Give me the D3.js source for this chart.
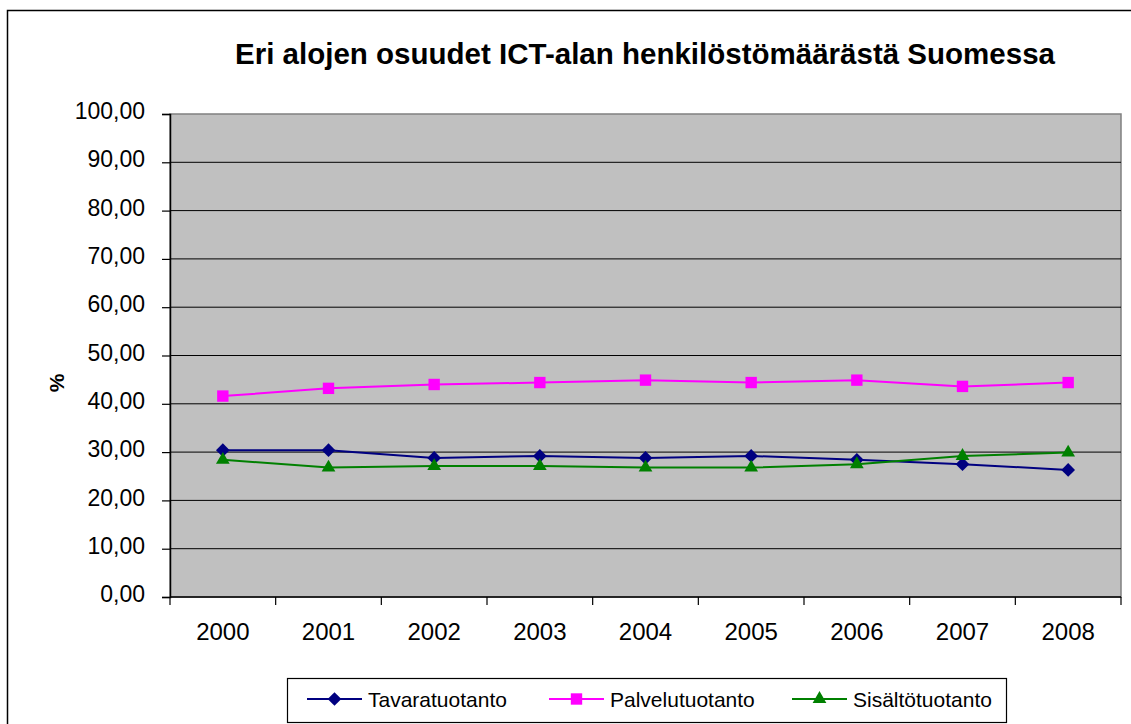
<!DOCTYPE html>
<html>
<head>
<meta charset="utf-8">
<script src="https://cdn.jsdelivr.net/npm/d3@7"></script>
<style>
  body { margin: 0; background: #fff; }
  text { font-family: Arial, "Liberation Sans", sans-serif; }
</style>
</head>
<body>
<svg id="chart" width="1131" height="724"></svg>
<script>
// data
var years = ['2000', '2001', '2002', '2003', '2004', '2005', '2006', '2007', '2008'];
var tavaratuotanto = [30.4, 30.4, 28.8, 29.2, 28.8, 29.2, 28.4, 27.5, 26.3];
var palvelutuotanto = [41.6, 43.2, 44.0, 44.4, 44.9, 44.4, 44.9, 43.6, 44.4];
var sisaltotuotanto = [28.4, 26.8, 27.1, 27.1, 26.8, 26.8, 27.5, 29.2, 29.9];
var yTicks = [0, 10, 20, 30, 40, 50, 60, 70, 80, 90, 100];

var series = [
    { name: 'Tavaratuotanto', values: tavaratuotanto, color: '#000080', symbol: d3.symbolDiamond2, size: 120 },
    { name: 'Palvelutuotanto', values: palvelutuotanto, color: '#ff00ff', symbol: d3.symbolSquare2, size: 165 },
    { name: 'Sisältötuotanto', values: sisaltotuotanto, color: '#008000', symbol: d3.symbolTriangle2, size: 135 }
];

var plot = { left: 170, top: 114, right: 1121, bottom: 597 };

var svg = d3.select('#chart');

// outer frame (runs off the right and bottom)
svg.append('rect')
    .attr('x', 7.5).attr('y', 10.5)
    .attr('width', 1140).attr('height', 730)
    .attr('fill', '#fff')
    .attr('stroke', '#000').attr('stroke-width', 1.5);

svg.append('text')
    .attr('x', 645).attr('y', 64)
    .attr('text-anchor', 'middle')
    .attr('textLength', 820)
    .attr('lengthAdjust', 'spacingAndGlyphs')
    .style('font-size', '29px')
    .style('font-weight', 'bold')
    .text('Eri alojen osuudet ICT-alan henkilöstömäärästä Suomessa');

var x = d3.scaleBand()
    .domain(years)
    .range([plot.left, plot.right]);

var y = d3.scaleLinear()
    .domain([0, 100])
    .range([plot.bottom, plot.top]);

// plot area
svg.append('rect')
    .attr('x', plot.left).attr('y', plot.top)
    .attr('width', plot.right - plot.left).attr('height', plot.bottom - plot.top)
    .attr('fill', '#c0c0c0')
    .attr('stroke', '#808080').attr('stroke-width', 1.5);

svg.append('g')
    .selectAll('line')
    .data(yTicks.filter(function (d) { return d > 0 && d < 100; }))
    .join('line')
    .attr('x1', plot.left).attr('x2', plot.right)
    .attr('y1', function (d) { return y(d); })
    .attr('y2', function (d) { return y(d); })
    .attr('stroke', '#000').attr('stroke-width', 1);

// y axis
var yAxis = svg.append('g')
    .attr('transform', 'translate(' + plot.left + ',0)')
    .call(d3.axisLeft(y)
        .tickValues(yTicks)
        .tickSize(8)
        .tickPadding(17)
        .tickFormat(function (d) { return d3.format('.2f')(d).replace('.', ','); }));
yAxis.select('.domain').attr('stroke', '#000').attr('stroke-width', 1.5);
yAxis.selectAll('.tick line').attr('stroke', '#000').attr('stroke-width', 1.2);
yAxis.selectAll('.tick text')
    .attr('fill', '#000')
    .attr('dy', '0.2em')
    .style('font-size', '23px')
    .style('font-family', 'Arial, "Liberation Sans", sans-serif');

// x axis: ticks on band edges
var xAxis = svg.append('g')
    .attr('transform', 'translate(0,' + plot.bottom + ')');
xAxis.append('line')
    .attr('x1', plot.left).attr('x2', plot.right)
    .attr('stroke', '#000').attr('stroke-width', 1.5);
var edges = years.map(function (d) { return x(d); }).concat([plot.right]);
xAxis.selectAll('line.tk')
    .data(edges)
    .join('line')
    .attr('class', 'tk')
    .attr('x1', function (d) { return d; }).attr('x2', function (d) { return d; })
    .attr('y1', 0).attr('y2', 8)
    .attr('stroke', '#000').attr('stroke-width', 1.2);
xAxis.selectAll('text')
    .data(years)
    .join('text')
    .attr('x', function (d) { return x(d) + x.bandwidth() / 2; })
    .attr('y', 43)
    .attr('text-anchor', 'middle')
    .style('font-size', '24px')
    .text(function (d) { return d; });

svg.append('text')
    .attr('transform', 'translate(64,383) rotate(-90)')
    .attr('text-anchor', 'middle')
    .style('font-size', '21px')
    .style('font-weight', 'bold')
    .text('%');

// lines and markers
var line = d3.line()
    .x(function (d, i) { return x(years[i]) + x.bandwidth() / 2; })
    .y(function (d) { return y(d); });

series.forEach(function (s) {
    svg.append('path')
        .datum(s.values)
        .attr('d', line)
        .attr('fill', 'none')
        .attr('stroke', s.color)
        .attr('stroke-width', 2);

    svg.append('g')
        .selectAll('path')
        .data(s.values)
        .join('path')
        .attr('transform', function (d, i) {
            return 'translate(' + (x(years[i]) + x.bandwidth() / 2) + ',' + y(d) + ')';
        })
        .attr('d', d3.symbol().type(s.symbol).size(s.size))
        .attr('fill', s.color);
});

// legend
var legend = svg.append('g');
legend.append('rect')
    .attr('x', 287.5).attr('y', 678.5)
    .attr('width', 719).attr('height', 44)
    .attr('fill', '#fff')
    .attr('stroke', '#000').attr('stroke-width', 1.2);

var legendX = [307, 549, 792];
series.forEach(function (s, i) {
    var g = legend.append('g').attr('transform', 'translate(' + legendX[i] + ',699)');
    g.append('line')
        .attr('x1', 0).attr('x2', 55)
        .attr('stroke', s.color).attr('stroke-width', 2);
    g.append('path')
        .attr('transform', 'translate(27.5,0)')
        .attr('d', d3.symbol().type(s.symbol).size(s.size))
        .attr('fill', s.color);
    g.append('text')
        .attr('x', 61).attr('y', 7.5)
        .style('font-size', '21px')
        .text(s.name);
});
</script>
</body>
</html>
